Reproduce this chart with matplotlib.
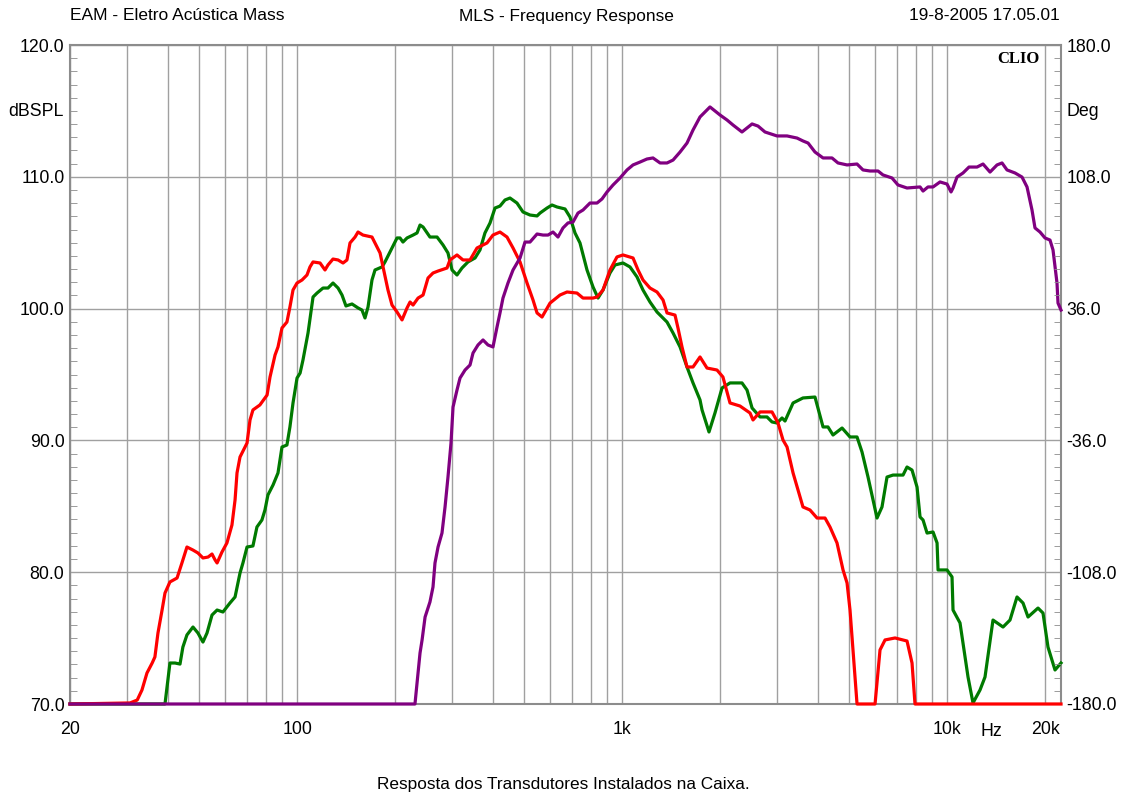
import matplotlib.pyplot as plt
from matplotlib.ticker import FixedLocator, FixedFormatter, MultipleLocator

plt.rcParams['font.family'] = ['Liberation Sans', 'DejaVu Sans']

# woofer (red)
red_f = [20, 30.6, 32.2, 33.3, 34.5, 35.8, 36.5, 37.3, 38.4, 39.2, 40.6, 42.7, 44.2, 45.8,
         47.8, 49.5, 51.3, 53.2, 54.7, 55.9, 56.7, 58.7, 60.8, 63.0, 64.4, 65.3, 66.7, 70.1,
         71.6, 73.1, 76.8, 80.8, 82.5, 85.5, 87.3, 89.8, 93.0, 95.0, 97.1, 99.9, 103.5,
         107.2, 109.5, 111.9, 117.6, 121.8, 124.4, 128.9, 133.6, 138.4, 142.3, 145.4, 150.7,
         153.9, 159.4, 169.9, 173.6, 179.9, 183.7, 190.3, 195.8, 202.9, 210.2, 217.8, 222.5,
         227.3, 235.5, 244.0, 252.7, 261.8, 271.3, 289.1, 295.2, 310.3, 323.8, 340.3, 357.6,
         383.8, 400.4, 420.8, 442.2, 461.5, 485.0, 509.7, 531.8, 547.1, 566.8, 599.9, 643.8,
         676.5, 726.1, 757.7, 813.5, 836.8, 873.0, 917.3, 964.0, 1006, 1080, 1119, 1159,
         1218, 1280, 1336, 1374, 1454, 1485, 1528, 1583, 1652, 1736, 1824, 1958, 2042, 2147,
         2304, 2474, 2527, 2656, 2891, 3017, 3125, 3216, 3356, 3600, 3784, 3978, 4209, 4360,
         4582, 4782, 4920, 5024, 5169, 5280, 5999, 6214, 6439, 6912, 7524, 7796, 7962, 22400]
red_db = [70, 70.08, 70.3, 71.06, 72.35, 73.11, 73.57, 75.39, 77.13, 78.42, 79.26, 79.56,
          80.70, 81.91, 81.68, 81.46, 81.08, 81.15, 81.38, 80.93, 80.70, 81.53, 82.22, 83.58,
          85.48, 87.53, 88.74, 89.80, 91.55, 92.31, 92.69, 93.44, 94.81, 96.48, 97.09, 98.53,
          98.98, 100.12, 101.41, 101.94, 102.17, 102.55, 103.16, 103.54, 103.46, 102.93,
          103.31, 103.76, 103.69, 103.46, 103.69, 104.98, 105.43, 105.81, 105.58, 105.43,
          104.98, 104.22, 103.16, 101.41, 100.27, 99.74, 99.14, 100.05, 100.50, 100.27,
          100.80, 101.03, 102.32, 102.70, 102.85, 103.08, 103.69, 104.07, 103.69, 103.69,
          104.60, 104.98, 105.58, 105.81, 105.43, 104.60, 103.54, 101.94, 100.65, 99.67,
          99.36, 100.42, 101.03, 101.26, 101.18, 100.80, 100.80, 100.88, 101.41, 102.93,
          103.92, 104.07, 103.84, 102.93, 102.17, 101.56, 101.26, 100.65, 99.67, 99.51,
          98.53, 97.09, 95.57, 95.57, 96.33, 95.49, 95.34, 94.81, 92.84, 92.61, 92.08, 91.55,
          92.16, 92.16, 91.32, 90.03, 89.50, 87.53, 84.95, 84.72, 84.11, 84.11, 83.43, 82.22,
          80.17, 79.18, 77.13, 73.11, 70, 70, 74.10, 74.86, 75.01, 74.78, 73.11, 70, 70]

# midrange (green)
green_f = [20, 39.2, 40.0, 40.6, 42.1, 43.6, 44.5, 45.8, 47.8, 49.5, 51.3, 52.8, 54.7, 56.7,
           59.1, 62.1, 64.4, 66.7, 68.1, 70.1, 73.1, 75.2, 77.9, 79.6, 81.3, 84.3, 87.3, 89.8,
           93.0, 95.0, 97.1, 99.9, 102.1, 104.2, 108.0, 111.9, 115.1, 120.1, 124.4, 128.9,
           133.6, 137.4, 141.3, 147.5, 153.9, 158.3, 161.7, 165.2, 169.9, 173.6, 182.4, 186.3,
           193.0, 202.9, 207.2, 211.6, 217.8, 227.3, 233.8, 238.8, 244.0, 256.2, 269.4, 281.0,
           291.1, 299.6, 310.3, 321.5, 335.4, 352.6, 365.2, 378.3, 392.0, 406.2, 420.8, 436.0,
           451.7, 474.6, 495.3, 520.5, 547.1, 558.8, 587.2, 608.3, 630.2, 667.0, 691.0, 715.9,
           741.7, 779.5, 813.5, 842.8, 873.0, 917.3, 950.5, 1006, 1057, 1111, 1159, 1218, 1280,
           1374, 1434, 1507, 1583, 1652, 1736, 1761, 1850, 1930, 2029, 2147, 2337, 2422, 2510,
           2656, 2790, 2891, 2995, 3104, 3170, 3356, 3600, 3920, 4150, 4298, 4454, 4749, 5024,
           5280, 5470, 5708, 6083, 6302, 6530, 6814, 7315, 7524, 7796, 8078, 8252, 8429, 8672,
           9048, 9309, 9375, 9990, 10350, 10424, 10953, 11346, 11592, 12008, 12619, 13075,
           13836, 14854, 15608, 16402, 17117, 17734, 19034, 19719, 20428, 21470, 22400]
green_db = [70, 70, 71.82, 73.11, 73.11, 73.03, 74.32, 75.24, 75.84, 75.39, 74.70, 75.39,
            76.75, 77.13, 76.98, 77.66, 78.12, 79.94, 80.70, 81.91, 81.99, 83.43, 83.96, 84.72,
            85.86, 86.62, 87.53, 89.50, 89.65, 91.02, 92.84, 94.73, 95.11, 96.10, 98.15,
            100.88, 101.18, 101.56, 101.56, 101.94, 101.56, 101.03, 100.20, 100.35, 100.05,
            99.89, 99.29, 100.12, 102.17, 102.93, 103.16, 103.54, 104.29, 105.36, 105.36,
            105.05, 105.36, 105.58, 105.74, 106.34, 106.19, 105.43, 105.43, 104.83, 104.22,
            102.93, 102.55, 103.08, 103.54, 103.84, 104.45, 105.74, 106.49, 107.63, 107.78,
            108.24, 108.39, 108.01, 107.33, 107.10, 107.03, 107.25, 107.63, 107.86, 107.71,
            107.56, 106.95, 105.74, 104.98, 102.93, 101.64, 100.80, 101.41, 102.70, 103.31,
            103.46, 103.16, 102.40, 101.41, 100.50, 99.74, 98.98, 98.15, 97.09, 95.57, 94.36,
            93.07, 92.31, 90.64, 92.08, 93.98, 94.36, 94.36, 93.82, 92.46, 91.78, 91.78, 91.40,
            91.32, 91.70, 91.47, 92.84, 93.22, 93.29, 91.02, 91.02, 90.41, 90.94, 90.26, 90.26,
            89.12, 87.22, 84.11, 84.95, 87.22, 87.37, 87.37, 87.98, 87.75, 86.46, 84.19, 83.96,
            82.97, 83.05, 82.22, 80.17, 80.17, 79.64, 77.13, 76.15, 73.57, 72.05, 70.08, 71.06,
            72.05, 76.37, 75.84, 76.37, 78.12, 77.66, 76.60, 77.28, 76.90, 74.32, 72.58, 73.11]

# tweeter (purple)
purple_f = [20, 230.4, 233.8, 238.8, 242.3, 247.5, 256.2, 261.8, 265.5, 271.3, 279.0, 285.1,
            291.1, 297.4, 301.7, 310.3, 317.0, 328.5, 340.3, 347.6, 360.1, 373.1, 386.5,
            400.4, 412.0, 420.8, 429.8, 445.3, 461.5, 485.0, 502.4, 520.5, 547.1, 570.8,
            591.3, 612.6, 634.7, 657.6, 681.3, 705.9, 731.3, 757.7, 796.2, 836.8, 867.0,
            898.3, 937.4, 984.9, 1035, 1080, 1135, 1192, 1244, 1308, 1374, 1434, 1507, 1583,
            1652, 1736, 1863, 2000, 2102, 2193, 2337, 2510, 2618, 2751, 2995, 3216, 3452, 3600,
            3733, 3920, 4150, 4422, 4614, 4920, 5280, 5508, 5788, 6127, 6346, 6765, 7058, 7524,
            8252, 8429, 8730, 9048, 9507, 9990, 10277, 10424, 10722, 11188, 11674, 12356,
            12892, 13548, 14237, 14749, 15281, 16171, 16994, 17608, 18240, 18631, 19304, 20000,
            20721, 21167, 21776, 21930, 22400]
purple_db = [70, 70, 71.59, 73.87, 74.86, 76.60, 77.74, 78.88, 80.70, 81.91, 82.97, 84.95,
             87.22, 89.80, 92.53, 93.82, 94.73, 95.34, 95.72, 96.63, 97.24, 97.62, 97.24,
             97.09, 98.60, 99.67, 100.80, 101.94, 102.93, 103.84, 105.05, 105.05, 105.66,
             105.58, 105.58, 105.81, 105.43, 106.12, 106.50, 106.57, 107.25, 107.48, 108.01,
             108.01, 108.32, 108.85, 109.38, 109.91, 110.52, 110.90, 111.12, 111.35, 111.43,
             111.05, 111.05, 111.27, 111.88, 112.56, 113.55, 114.54, 115.30, 114.69, 114.31,
             113.93, 113.40, 114.01, 113.85, 113.40, 113.10, 113.10, 112.94, 112.72, 112.56,
             111.88, 111.43, 111.43, 111.05, 110.90, 110.97, 110.52, 110.44, 110.44, 110.14,
             109.91, 109.38, 109.15, 109.23, 108.92, 109.23, 109.23, 109.61, 109.45, 108.85,
             109.15, 109.98, 110.29, 110.74, 110.74, 110.97, 110.36, 110.90, 111.05, 110.52,
             110.29, 109.98, 109.23, 107.48, 106.12, 105.81, 105.36, 105.20, 104.45, 101.94,
             100.42, 99.89]

grid_freqs = ([20, 30, 40, 50, 60, 70, 80, 90] + list(range(100, 1000, 100))
              + list(range(1000, 10000, 1000)) + [10000, 20000])
freq_labels = {20: '20', 100: '100', 1000: '1k', 10000: '10k', 20000: '20k'}

W, H = 1121, 794
fig = plt.figure(figsize=(W / 100, H / 100), dpi=100)
ax = fig.add_axes([70 / W, 1 - 704 / H, 991 / W, 659 / H])

gray = '#8c8c8c'
ax.plot(green_f, green_db, color='#007a00', lw=2.3, clip_on=False, zorder=3)
ax.plot(red_f, red_db, color='#ff0000', lw=2.3, clip_on=False, zorder=4)
ax.plot(purple_f, purple_db, color='#800080', lw=2.3, clip_on=False, zorder=5)

ax.set_xscale('log')
ax.set_xlim(20, 22400)
ax.set_ylim(70, 120)
ax.xaxis.set_major_locator(FixedLocator(grid_freqs))
ax.xaxis.set_major_formatter(FixedFormatter([freq_labels.get(f, '') for f in grid_freqs]))
ax.xaxis.set_minor_locator(FixedLocator([]))
ax.set_yticks(range(70, 121, 10))
ax.yaxis.set_major_formatter(plt.FormatStrFormatter('%.1f'))
ax.yaxis.set_minor_locator(MultipleLocator(1))
ax.tick_params(axis='x', length=0, pad=12, labelsize=12.8)
ax.tick_params(axis='y', which='major', length=0, pad=4, labelsize=12.8)
ax.tick_params(axis='y', which='minor', direction='in', length=5, color=gray)
ax.grid(True, which='major', color='#a0a0a0', lw=1)
for s in ax.spines.values():
    s.set_color(gray)
    s.set_linewidth(1.5)

# phase scale on the right
ax2 = ax.twinx()
ax2.set_ylim(-180, 180)
ax2.set_yticks([-180, -108, -36, 36, 108, 180])
ax2.yaxis.set_major_formatter(plt.FormatStrFormatter('%.1f'))
ax2.yaxis.set_minor_locator(MultipleLocator(7.2))
ax2.tick_params(axis='y', which='major', length=0, pad=4, labelsize=12.8)
ax2.tick_params(axis='y', which='minor', direction='in', length=5, color=gray)
for s in ax2.spines.values():
    s.set_visible(False)

fig.text(70 / W, 1 - 16 / H, 'EAM - Eletro Acústica Mass', ha='left', va='center', fontsize=12.5)
fig.text(566 / W, 1 - 16 / H, 'MLS - Frequency Response', ha='center', va='center', fontsize=12.4)
fig.text(1060 / W, 1 - 16 / H, '19-8-2005 17.05.01', ha='right', va='center', fontsize=12.4)
fig.text(64 / W, 1 - 112 / H, 'dBSPL', ha='right', va='center', fontsize=12.8)
fig.text(1067 / W, 1 - 112 / H, 'Deg', ha='left', va='center', fontsize=12.8)
fig.text(1040 / W, 1 - 59 / H, 'CLIO', ha='right', va='center', fontsize=12,
         family='Liberation Serif', weight='bold')
fig.text(991 / W, 1 - 732 / H, 'Hz', ha='center', va='center', fontsize=12.8)
fig.text(563 / W, 1 - 785 / H, 'Resposta dos Transdutores Instalados na Caixa.',
         ha='center', va='center', fontsize=12.4)

fig.savefig('out.png', dpi=100)
